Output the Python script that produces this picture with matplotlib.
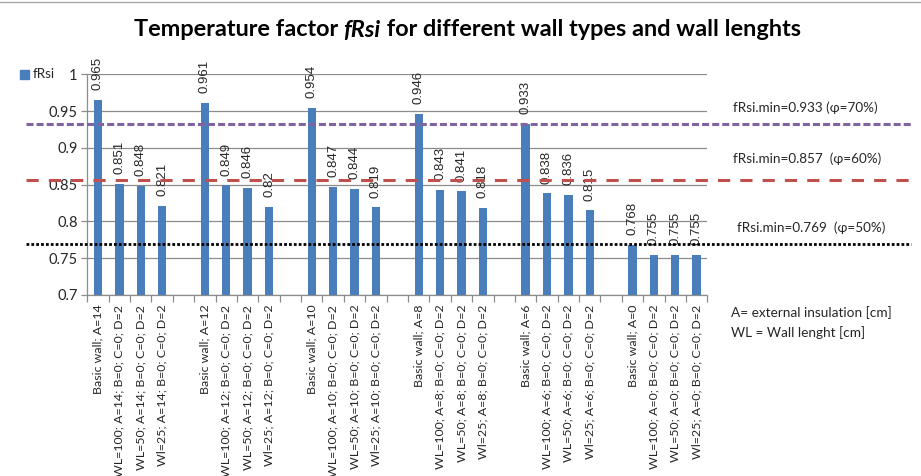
import matplotlib
matplotlib.use("Agg")
import matplotlib.pyplot as plt
from matplotlib.patches import Rectangle
from matplotlib.lines import Line2D
import matplotlib.transforms as mtransforms

# ---- data ----
wall_thickness = [14, 12, 10, 8, 6, 0]
labels_per_group = [
    "Basic wall; A={a}",
    "WL=100; A={a}; B=0; C=0; D=2",
    "WL=50; A={a}; B=0; C=0; D=2",
    "Wl=25; A={a}; B=0; C=0; D=2",
]
frsi_values = [
    [0.965, 0.851, 0.848, 0.821],
    [0.961, 0.849, 0.846, 0.820],
    [0.954, 0.847, 0.844, 0.819],
    [0.946, 0.843, 0.841, 0.818],
    [0.933, 0.838, 0.836, 0.815],
    [0.768, 0.755, 0.755, 0.755],
]
limit_values = [0.933, 0.857, 0.769]
limit_labels = ["fRsi.min=0.933 (\u03c6=70%)",
                "fRsi.min=0.857  (\u03c6=60%)",
                "fRsi.min=0.769  (\u03c6=50%)"]
y_ticks = [0.7, 0.75, 0.8, 0.85, 0.9, 0.95, 1.0]
y_tick_labels = ["0.7", "0.75", "0.8", "0.85", "0.9", "0.95", "1"]

# ---- build category slots (one empty slot between groups) ----
categories, values = [], []
for gi, (a, vals) in enumerate(zip(wall_thickness, frsi_values)):
    for tmpl, v in zip(labels_per_group, vals):
        categories.append(tmpl.format(a=a))
        values.append(v)
    if gi < len(wall_thickness) - 1:
        categories.append("")
        values.append(None)

W, H = 921, 476
fig = plt.figure(figsize=(W / 100, H / 100), dpi=100)

def fx(px):
    return px / W

def fy(py):
    return 1 - py / H

ax = fig.add_axes([fx(87.3), fy(295), fx(707.3) - fx(87.3), fy(74.3) - fy(295)])

BAR = "#4A7EBB"
GRID = "#8C8C8C"
TXT = "#262626"
CAL = ["Lato", "DejaVu Sans"]

xs = [i for i, v in enumerate(values) if v is not None]
vs = [v for v in values if v is not None]
ax.bar(xs, vs, width=0.39, color=BAR, zorder=3)

for x, v in zip(xs, vs):
    ax.annotate(f"{v:g}", (x, v), xytext=(0, 7), textcoords="offset points",
                rotation=90, ha="center", va="bottom", fontsize=9.5,
                family="Liberation Sans", color=TXT, zorder=4)

n = len(categories)
ax.set_xlim(-0.5, n - 0.5)
ax.set_ylim(0.7, 1.0)
ax.set_yticks(y_ticks)
ax.set_yticklabels(y_tick_labels, family=CAL, fontsize=10.5, color=TXT)
ax.yaxis.grid(True, color=GRID, linewidth=0.9, zorder=0)
ax.tick_params(axis="y", length=4, width=0.9, color=GRID, pad=3)

# category labels centred in each slot, tick marks on slot boundaries
ax.set_xticks(range(n))
ax.set_xticklabels(categories, rotation=90, family=CAL, fontsize=8.9, color=TXT,
                   va="top", ha="center")
ax.tick_params(axis="x", length=0, pad=7)
ax.set_xticks([i - 0.5 for i in range(n + 1)], minor=True)
ax.tick_params(axis="x", which="minor", length=5, width=0.9, color=GRID)

for s in ["top", "right"]:
    ax.spines[s].set_visible(False)
for s in ["left", "bottom"]:
    ax.spines[s].set_color(GRID)
    ax.spines[s].set_linewidth(0.9)

# threshold lines running across the whole chart area
blend = mtransforms.blended_transform_factory(fig.transFigure, ax.transData)
line_styles = [
    dict(color="#8064A2", linewidth=2.2, linestyle=(0, (2.3, 1.0))),
    dict(color="#C0504D", linewidth=2.2, linestyle=(0, (4.0, 3.3))),
    dict(color="#000000", linewidth=2.0, linestyle=(0, (1.0, 0.75))),
]
for val, st in zip(limit_values, line_styles):
    fig.add_artist(Line2D([fx(26), fx(911)], [val, val], transform=blend,
                          zorder=5, **st))

label_pos = [(733, 108), (733, 159), (737, 228)]
for (px, py), txt in zip(label_pos, limit_labels):
    fig.text(fx(px), fy(py), txt, ha="left", va="center", fontsize=9.7,
             family=CAL, color=TXT)

fig.text(fx(731), fy(313), "A= external insulation [cm]", ha="left", va="center",
         fontsize=9.8, family=CAL, color=TXT)
fig.text(fx(731), fy(333), "WL = Wall lenght [cm]", ha="left", va="center",
         fontsize=9.8, family=CAL, color=TXT)

# legend
fig.add_artist(Rectangle((fx(20), fy(79)), fx(9), fy(70) - fy(79),
                         transform=fig.transFigure, color=BAR))
fig.text(fx(33), fy(74.5), "fRsi", ha="left", va="center", fontsize=9.6,
         family=CAL, color=TXT)

# title assembled from three pieces (middle one bold italic)
parts = [("Temperature factor ", "normal"), ("fRsi", "italic"),
         (" for different wall types and wall lenghts", "normal")]
renderer = fig.canvas.get_renderer()
texts = []
for s, style in parts:
    t = fig.text(0, fy(30), s, fontsize=16.9, fontweight="bold", style=style,
                 family=CAL, color="#000000", ha="left", va="center")
    texts.append(t)
widths = [t.get_window_extent(renderer).width for t in texts]
x0 = 467 - sum(widths) / 2
for t, w in zip(texts, widths):
    t.set_x(fx(x0))
    x0 += w

# thin border along the top edge
fig.add_artist(Line2D([0, 1], [fy(2), fy(2)], transform=fig.transFigure,
                      color="#A6A6A6", linewidth=1))

fig.savefig("out.png", dpi=100)
